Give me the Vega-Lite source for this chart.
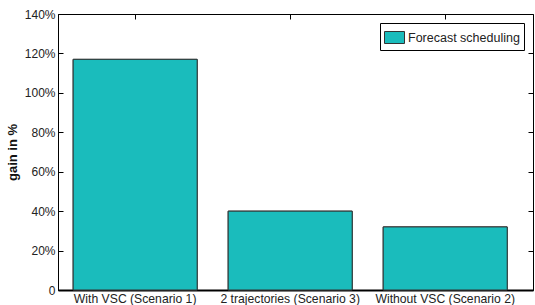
{
  "$schema": "https://vega.github.io/schema/vega-lite/v6.json",
  "width": 475,
  "height": 276,
  "autosize": {"type": "none"},
  "padding": {"left": 58, "top": 14, "right": 2, "bottom": 15},
  "background": "white",
  "config": {
    "font": "Liberation Sans",
    "view": {"stroke": "black", "strokeWidth": 1},
    "axis": {"domainColor": "black", "tickColor": "black", "labelColor": "#222", "labelFont": "Liberation Sans", "labelFontSize": 12, "grid": false, "tickSize": -5}
  },
  "data": {"values": [
    {"scenario": "With VSC (Scenario 1)", "gain": 117, "series": "Forecast scheduling"},
    {"scenario": "2 trajectories (Scenario 3)", "gain": 40, "series": "Forecast scheduling"},
    {"scenario": "Without VSC (Scenario 2)", "gain": 32, "series": "Forecast scheduling"}
  ]},
  "layer": [
    {
      "mark": {"type": "bar", "stroke": "#333", "strokeWidth": 1},
      "encoding": {
        "x": {"field": "scenario", "type": "nominal", "sort": null,
          "scale": {"paddingInner": 0.2, "paddingOuter": 0.132, "align": 0.37},
          "axis": {"title": null, "labelAngle": 0, "labelPadding": 2, "ticks": false, "domainWidth": 2, "labelFontSize": 12.2}},
        "y": {"field": "gain", "type": "quantitative",
          "scale": {"domain": [0, 140], "nice": false},
          "axis": {"title": "gain in %", "titleFontWeight": "bold", "titleFontSize": 13, "titleFont": "Liberation Sans", "titleColor": "#111", "titlePadding": 5,
            "values": [0, 20, 40, 60, 80, 100, 120, 140],
            "labelExpr": "datum.value == 0 ? '0' : datum.value + '%'", "labelPadding": 8}},
        "fill": {"field": "series", "type": "nominal",
          "scale": {"range": ["#1abcbc"]},
          "legend": {"title": null, "orient": "top-right", "offset": 9,
            "strokeColor": "black", "fillColor": "white", "padding": 4,
            "symbolType": "M-1,-0.6H1V0.6H-1Z", "symbolSize": 400, "symbolStrokeColor": "#333", "symbolStrokeWidth": 1,
            "labelOffset": 3, "labelFontSize": 12.5, "labelFont": "Liberation Sans", "labelColor": "#222"}}
      }
    },
    {
      "mark": {"type": "bar", "stroke": "#333", "strokeWidth": 1, "fill": "#1abcbc"},
      "encoding": {
        "x": {"field": "scenario", "type": "nominal", "sort": null,
          "scale": {"paddingInner": 0.2, "paddingOuter": 0.132, "align": 0.37},
          "axis": {"orient": "top", "title": null, "labels": false, "domain": false}},
        "y": {"field": "gain", "type": "quantitative",
          "scale": {"domain": [0, 140], "nice": false},
          "axis": {"orient": "right", "title": null, "labels": false, "domain": false,
            "values": [0, 20, 40, 60, 80, 100, 120, 140]}}
      }
    }
  ],
  "resolve": {"axis": {"x": "independent", "y": "independent"}}
}
